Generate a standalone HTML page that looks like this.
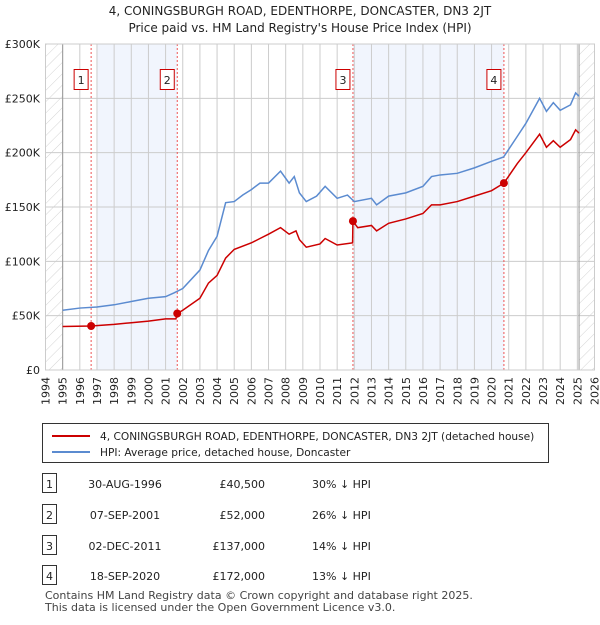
<!DOCTYPE html>
<html><head><meta charset="utf-8"><style>
body{margin:0;background:#fff;font-family:"Liberation Sans","DejaVu Sans",sans-serif;}
svg text{font-family:"DejaVu Sans","Liberation Sans",sans-serif;}
</style></head><body>
<svg width="600" height="620" viewBox="0 0 600 620" xmlns="http://www.w3.org/2000/svg">
<defs><pattern id="hatch" width="8" height="8" patternUnits="userSpaceOnUse" patternTransform="rotate(45)"><line x1="0" y1="0" x2="0" y2="8" stroke="#d4d4d4" stroke-width="1"/></pattern></defs>
<text x="300" y="15" text-anchor="middle" font-size="12" fill="#222">4, CONINGSBURGH ROAD, EDENTHORPE, DONCASTER, DN3 2JT</text>
<text x="300" y="32" text-anchor="middle" font-size="12" fill="#222">Price paid vs. HM Land Registry's House Price Index (HPI)</text>
<g id="plot"></g>
<g>
<rect x="42.5" y="423.5" width="506" height="39" fill="#fff" stroke="#333"/>
<line x1="52" y1="436" x2="90" y2="436" stroke="#cc0000" stroke-width="2"/>
<text x="100" y="440" font-size="10.6" fill="#222">4, CONINGSBURGH ROAD, EDENTHORPE, DONCASTER, DN3 2JT (detached house)</text>
<line x1="52" y1="452" x2="90" y2="452" stroke="#5b8bd0" stroke-width="2"/>
<text x="100" y="456" font-size="10.6" fill="#222">HPI: Average price, detached house, Doncaster</text>
</g>
<g id="table"></g>
<text x="45" y="599" font-size="11" fill="#444">Contains HM Land Registry data © Crown copyright and database right 2025.</text>
<text x="45" y="611" font-size="11" fill="#444">This data is licensed under the Open Government Licence v3.0.</text>
</svg>
<script>
const hpiYears=[1995,1996,1997,1998,1999,2000,2001,2001.5,2002,2003,2003.5,2004,2004.5,2005,2005.5,2006,2006.5,2007,2007.7,2008.2,2008.5,2008.8,2009.2,2009.8,2010.3,2011,2011.6,2012,2013,2013.3,2014,2015,2016,2016.5,2017,2018,2019,2020,2020.7,2021.5,2022,2022.8,2023.2,2023.6,2024,2024.6,2024.9,2025.1];
const hpiValues=[55,57,58,60,63,66,67.5,71,75,92,110,123,154,155,161,166,172,172,183,172,178,163,155,160,169,158,161,155,158,152,160,163,169,178,179.5,181,186,192,196,215,227,250,238,246,239,244,255,252];
const priceYears=[1995,1996.66,1998,1999,2000,2001,2001.6,2001.68,2002,2003,2003.5,2004,2004.5,2005,2006,2006.5,2007,2007.7,2008.2,2008.6,2008.8,2009.2,2010,2010.3,2011,2011.9,2011.92,2012.2,2013,2013.3,2014,2015,2016,2016.5,2017,2018,2019,2020,2020.72,2021.5,2022,2022.8,2023.2,2023.6,2024,2024.6,2024.9,2025.1];
const priceValues=[40,40.5,42,43.5,45,47,47,52,55,66,80,87,103,111,117,121,125,131,125,128,120,113,116,121,115,117,137,131,133,128,135,139,144,152,152,155,160,165,172,190,200,217,205,211,205,212,221,218];
const saleLabels=["1","2","3","4"];
const saleYears=[1996.66,2001.68,2011.92,2020.72];
const saleValues=[40.5,52,137,172];
const saleDates=["30-AUG-1996","07-SEP-2001","02-DEC-2011","18-SEP-2020"];
const salePrices=["£40,500","£52,000","£137,000","£172,000"];
const saleDiffs=["30% ↓ HPI","26% ↓ HPI","14% ↓ HPI","13% ↓ HPI"];
const yTicks=[0,50,100,150,200,250,300];
const yTickLabels=["£0","£50K","£100K","£150K","£200K","£250K","£300K"];
const xTicks=[];for(let y=1994;y<=2026;y++)xTicks.push(y);

const X0=45.5,X1=594.5,Y0=370,Y1=44;
const xs=v=>X0+(v-1994)/(2026-1994)*(X1-X0);
const ys=v=>Y0-(v/300)*(Y0-Y1);
const NS="http://www.w3.org/2000/svg";
const plot=document.getElementById('plot');
function mk(tag,attrs,parent,txt){const e=document.createElementNS(NS,tag);for(const k in attrs)e.setAttribute(k,attrs[k]);if(txt!==undefined)e.textContent=txt;(parent||plot).appendChild(e);return e;}
let e;
e=mk('rect',{x:xs(1994),y:Y1,width:xs(1995)-xs(1994),height:Y0-Y1,fill:'url(#hatch)'});


e=mk('rect',{x:xs(2025.1),y:Y1,width:xs(2026)-xs(2025.1),height:Y0-Y1,fill:'url(#hatch)'});


e=mk('rect',{x:xs(1997),y:Y1,width:xs(saleYears[1])-xs(1997),height:Y0-Y1,fill:'#eef3fc',opacity:0.8});


e=mk('rect',{x:xs(saleYears[2]),y:Y1,width:xs(saleYears[3])-xs(saleYears[2]),height:Y0-Y1,fill:'#eef3fc',opacity:0.8});


xTicks.forEach(t=>{e=mk('line',{x1:xs(t),x2:xs(t),y1:Y1,y2:Y0,stroke:'#ccc','stroke-width':1});


e=mk('text',{x:0,y:0,transform:`translate(${xs(t)+4},${Y0+7}) rotate(-90)`,'text-anchor':'end','font-size':11,fill:'#222'},plot,String(t));

});
yTicks.forEach((t,i)=>{e=mk('line',{x1:X0,x2:X1,y1:ys(t),y2:ys(t),stroke:'#ccc','stroke-width':1});


e=mk('text',{x:40,y:ys(t)+4,'text-anchor':'end','font-size':11,fill:'#222'},plot,yTickLabels[i]);

});
e=mk('line',{x1:xs(1995),x2:xs(1995),y1:Y1,y2:Y0,stroke:'#999','stroke-width':1});


e=mk('line',{x1:xs(2025.1),x2:xs(2025.1),y1:Y1,y2:Y0,stroke:'#999','stroke-width':1});


saleYears.forEach((s,i)=>{e=mk('line',{x1:xs(s),x2:xs(s),y1:Y1,y2:Y0,stroke:'#e55','stroke-width':1,'stroke-dasharray':'2,2'});


e=mk('rect',{x:xs(s)-17,y:69.5,width:14,height:20,fill:'#fff',stroke:'#c00'});


e=mk('text',{x:xs(s)-10,y:84,'text-anchor':'middle','font-size':11,fill:'#222'},plot,saleLabels[i]);

});
e=mk('polyline',{points:hpiYears.map((y,i)=>xs(y)+','+ys(hpiValues[i])).join(' '),fill:'none',stroke:'#5b8bd0','stroke-width':1.5});


e=mk('polyline',{points:priceYears.map((y,i)=>xs(y)+','+ys(priceValues[i])).join(' '),fill:'none',stroke:'#cc0000','stroke-width':1.5});


saleYears.forEach((s,i)=>{e=mk('circle',{cx:xs(s),cy:ys(saleValues[i]),r:4,fill:'#cc0000'});

});
e=mk('rect',{x:X0,y:Y1,width:X1-X0,height:Y0-Y1,fill:'none',stroke:'#ccc'});


const tb=document.getElementById('table');
const rowY=[484,515,546,576];
saleLabels.forEach((l,i)=>{const y=rowY[i];
e=mk('rect',{x:42.5,y:y-10.5,width:14,height:19,fill:'#fff',stroke:'#333'},tb);


e=mk('text',{x:49.5,y:y+4,'text-anchor':'middle','font-size':11,fill:'#222'},tb,l);


e=mk('text',{x:125,y:y+4,'text-anchor':'middle','font-size':11,fill:'#222'},tb,saleDates[i]);


e=mk('text',{x:265,y:y+4,'text-anchor':'end','font-size':11,fill:'#222'},tb,salePrices[i]);


e=mk('text',{x:312,y:y+4,'font-size':11,fill:'#222'},tb,saleDiffs[i]);

});
</script>
</body></html>
